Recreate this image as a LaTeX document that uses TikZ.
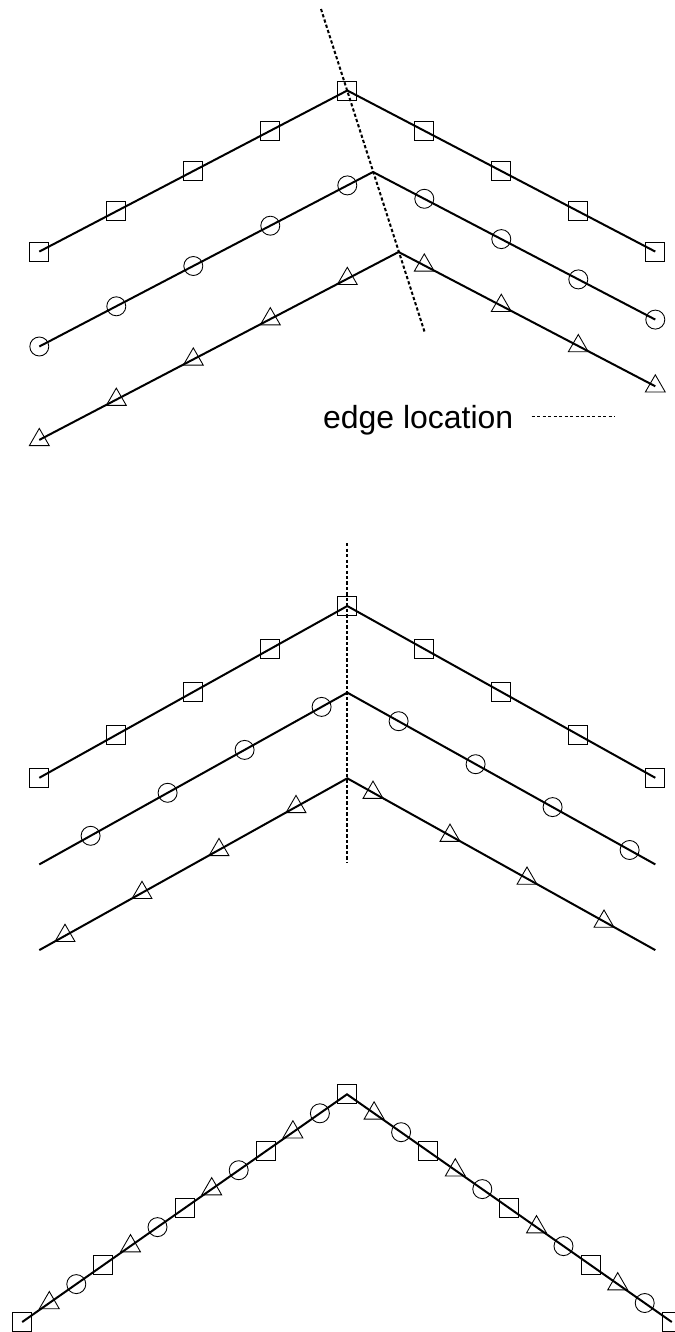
\documentclass[tikz,border=0pt]{standalone}
\usepackage{fontspec}
\setmainfont{Liberation Sans}
\usetikzlibrary{plotmarks}

\begin{document}
\begin{tikzpicture}[x=0.02cm,y=-0.02cm,
		profile/.style={line width=0.04cm},
		edgeline/.style={line width=0.04cm,dash pattern=on 0.065cm off 0.045cm},
		sqmarks/.style={only marks,mark=square,mark size=0.19cm,mark options={line width=0.5pt}},
		cimarks/.style={only marks,mark=o,mark size=0.19cm,mark options={line width=0.5pt}},
		trimarks/.style={only marks,mark=triangle,mark size=0.23cm,mark options={line width=0.5pt}}]
		\useasboundingbox (0,0) rectangle (675,1332);
		% haut : profils decales
		\draw[profile] (39.3,251.6)--(347.3,90.5)--(655.3,251.6);
		\draw[profile] (39.3,346.5)--(373,172)--(655.3,319.6);
		\draw[profile] (39.3,439.9)--(398.6,252)--(655.3,386.3);
		\draw[edgeline] (321,9)--(424.6,332);
		\draw[sqmarks] plot coordinates {(39.3,251.6) (116.3,211.3) (193.3,171.0) (270.3,130.8) (347.3,90.5) (424.3,130.8) (501.3,171.0) (578.3,211.3) (655.3,251.6)};
		\draw[cimarks] plot coordinates {(39.3,346.5) (116.3,306.3) (193.3,266.0) (270.3,225.7) (347.3,185.4) (424.3,198.8) (501.3,239.1) (578.3,279.4) (655.3,319.6)};
		\draw[trimarks] plot coordinates {(39.3,439.9) (116.3,399.6) (193.3,359.4) (270.3,319.1) (347.3,278.8) (424.3,265.4) (501.3,305.7) (578.3,346.0) (655.3,386.3)};
		\node[anchor=base west,inner sep=0pt,font=\fontsize{18.2pt}{22pt}\selectfont] (legend) at (322.7,428.3) {edge location};
		\coordinate (legA) at (531.7,416.7);
		\coordinate (legB) at (615,416.7);
		\draw[edgeline,line width=0.028cm] (legA)--(legB);
		% milieu : profils recales sur le bord
		\draw[profile] (39.3,777.8)--(347.3,606)--(655.3,777.8);
		\draw[profile] (39.3,864.4)--(347.3,692.6)--(655.3,864.4);
		\draw[profile] (39.3,950.1)--(347.3,778.3)--(655.3,950.1);
		\draw[edgeline] (347.3,543)--(347.3,862.7);
		\draw[sqmarks] plot coordinates {(39.3,777.8) (116.3,734.8) (193.3,691.9) (270.3,648.9) (347.3,606) (424.3,648.9) (501.3,691.9) (578.3,734.8) (655.3,777.8)};
		\draw[cimarks] plot coordinates {(90.6,835.8) (167.6,792.8) (244.6,749.9) (321.6,706.9) (398.6,721.2) (475.6,764.2) (552.6,807.1) (629.6,850.0)};
		\draw[trimarks] plot coordinates {(65,935.7) (142,892.8) (219,849.9) (296,806.9) (373,792.6) (450,835.6) (527,878.5) (604,921.5)};
		% bas : profils superposes
		\draw[profile] (22.2,1322)--(347,1094.3)--(671.8,1322);
		\draw[sqmarks] plot coordinates {(22.2,1322) (103.4,1265.1) (184.6,1208.1) (265.8,1151.2) (347,1094.3) (428.2,1151.2) (509.4,1208.1) (590.6,1265.1) (671.8,1322)};
		\draw[cimarks] plot coordinates {(76.3,1284.1) (157.5,1227.1) (238.7,1170.2) (319.9,1113.3) (401.1,1132.2) (482.3,1189.1) (563.5,1246.1) (644.7,1303.0)};
		\draw[trimarks] plot coordinates {(49.3,1303.0) (130.5,1246.1) (211.7,1189.1) (292.9,1132.2) (374.1,1113.3) (455.3,1170.2) (536.5,1227.1) (617.7,1284.1)};
	\end{tikzpicture}
\end{document}
